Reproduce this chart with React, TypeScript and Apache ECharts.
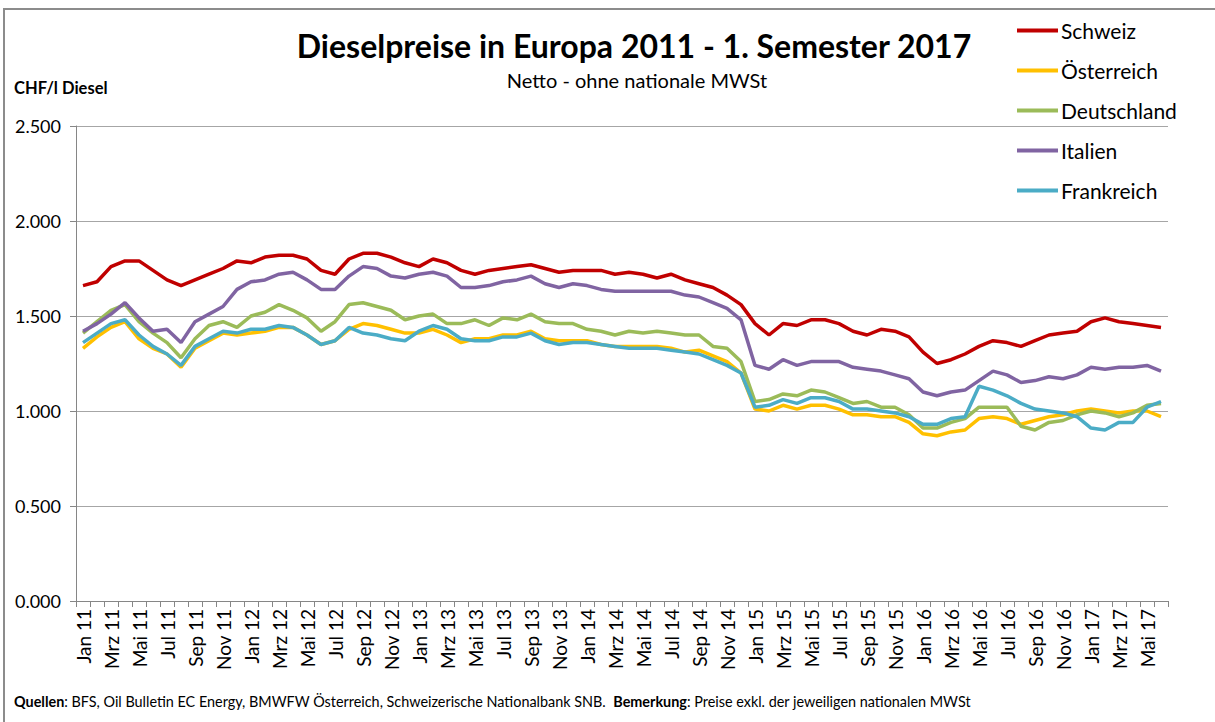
import React, { useEffect, useRef } from "react";
import * as echarts from "echarts";

const monthNames = ["Jan", "Feb", "Mrz", "Apr", "Mai", "Jun", "Jul", "Aug", "Sep", "Okt", "Nov", "Dez"];
const years = ["11", "12", "13", "14", "15", "16", "17"];
const categories: string[] = [];
years.forEach((y) => monthNames.forEach((m) => categories.push(m + " " + y)));
const months = categories.slice(0, 78); // Jan 11 .. Jun 17

const schweiz = [
  1.66, 1.68, 1.76, 1.79, 1.79, 1.74, 1.69, 1.66, 1.69, 1.72,
  1.75, 1.79, 1.78, 1.81, 1.82, 1.82, 1.80, 1.74, 1.72, 1.80,
  1.83, 1.83, 1.81, 1.78, 1.76, 1.80, 1.78, 1.74, 1.72, 1.74,
  1.75, 1.76, 1.77, 1.75, 1.73, 1.74, 1.74, 1.74, 1.72, 1.73,
  1.72, 1.70, 1.72, 1.69, 1.67, 1.65, 1.61, 1.56, 1.46, 1.40,
  1.46, 1.45, 1.48, 1.48, 1.46, 1.42, 1.40, 1.43, 1.42, 1.39,
  1.31, 1.25, 1.27, 1.30, 1.34, 1.37, 1.36, 1.34, 1.37, 1.40,
  1.41, 1.42, 1.47, 1.49, 1.47, 1.46, 1.45, 1.44,
];
const oesterreich = [
  1.33, 1.39, 1.44, 1.47, 1.38, 1.33, 1.30, 1.23, 1.33, 1.37,
  1.41, 1.40, 1.41, 1.42, 1.44, 1.44, 1.40, 1.35, 1.37, 1.43,
  1.46, 1.45, 1.43, 1.41, 1.41, 1.43, 1.40, 1.36, 1.38, 1.38,
  1.40, 1.40, 1.42, 1.38, 1.37, 1.37, 1.37, 1.35, 1.34, 1.34,
  1.34, 1.34, 1.33, 1.31, 1.32, 1.29, 1.26, 1.20, 1.01, 1.00,
  1.03, 1.01, 1.03, 1.03, 1.01, 0.98, 0.98, 0.97, 0.97, 0.94,
  0.88, 0.87, 0.89, 0.90, 0.96, 0.97, 0.96, 0.93, 0.95, 0.97,
  0.98, 1.00, 1.01, 1.00, 0.99, 1.00, 1.00, 0.97,
];
const deutschland = [
  1.41, 1.47, 1.53, 1.56, 1.47, 1.41, 1.36, 1.28, 1.38, 1.45,
  1.47, 1.44, 1.50, 1.52, 1.56, 1.53, 1.49, 1.42, 1.47, 1.56,
  1.57, 1.55, 1.53, 1.48, 1.50, 1.51, 1.46, 1.46, 1.48, 1.45,
  1.49, 1.48, 1.51, 1.47, 1.46, 1.46, 1.43, 1.42, 1.40, 1.42,
  1.41, 1.42, 1.41, 1.40, 1.40, 1.34, 1.33, 1.26, 1.05, 1.06,
  1.09, 1.08, 1.11, 1.10, 1.07, 1.04, 1.05, 1.02, 1.02, 0.98,
  0.91, 0.91, 0.94, 0.96, 1.02, 1.02, 1.02, 0.92, 0.90, 0.94,
  0.95, 0.98, 1.00, 0.99, 0.97, 0.99, 1.03, 1.04,
];
const italien = [
  1.42, 1.46, 1.51, 1.57, 1.49, 1.42, 1.43, 1.36, 1.47, 1.51,
  1.55, 1.64, 1.68, 1.69, 1.72, 1.73, 1.69, 1.64, 1.64, 1.71,
  1.76, 1.75, 1.71, 1.70, 1.72, 1.73, 1.71, 1.65, 1.65, 1.66,
  1.68, 1.69, 1.71, 1.67, 1.65, 1.67, 1.66, 1.64, 1.63, 1.63,
  1.63, 1.63, 1.63, 1.61, 1.60, 1.57, 1.54, 1.48, 1.24, 1.22,
  1.27, 1.24, 1.26, 1.26, 1.26, 1.23, 1.22, 1.21, 1.19, 1.17,
  1.10, 1.08, 1.10, 1.11, 1.16, 1.21, 1.19, 1.15, 1.16, 1.18,
  1.17, 1.19, 1.23, 1.22, 1.23, 1.23, 1.24, 1.21,
];
const frankreich = [
  1.36, 1.41, 1.46, 1.48, 1.40, 1.34, 1.30, 1.24, 1.34, 1.38,
  1.42, 1.41, 1.43, 1.43, 1.45, 1.44, 1.40, 1.35, 1.37, 1.44,
  1.41, 1.40, 1.38, 1.37, 1.42, 1.45, 1.43, 1.38, 1.37, 1.37,
  1.39, 1.39, 1.41, 1.37, 1.35, 1.36, 1.36, 1.35, 1.34, 1.33,
  1.33, 1.33, 1.32, 1.31, 1.30, 1.27, 1.24, 1.20, 1.02, 1.03,
  1.06, 1.04, 1.07, 1.07, 1.05, 1.01, 1.01, 1.00, 0.99, 0.97,
  0.93, 0.93, 0.96, 0.97, 1.13, 1.11, 1.08, 1.04, 1.01, 1.00,
  0.99, 0.97, 0.91, 0.90, 0.94, 0.94, 1.02, 1.05,
];

const seriesNames = ["Schweiz", "Österreich", "Deutschland", "Italien", "Frankreich"];
const seriesData = [schweiz, oesterreich, deutschland, italien, frankreich];
const seriesColors = ["#C00000", "#FFC000", "#9BBB59", "#8064A2", "#4BACC6"];

const FONT = "Lato, 'Open Sans', sans-serif";

export default function App() {
  const ref = useRef<HTMLDivElement>(null);
  useEffect(() => {
    if (!ref.current) return;
    const chart = echarts.init(ref.current, undefined, { renderer: "svg" });
    chart.setOption({
      animation: false,
      backgroundColor: "#ffffff",
      textStyle: { fontFamily: FONT, color: "#000" },
      title: [
        {
          text: "Dieselpreise in Europa 2011 - 1. Semester 2017",
          left: 629,
          top: 24,
          textAlign: "center",
          textStyle: { fontSize: 32, fontWeight: "bold", color: "#000", fontFamily: FONT },
        },
        {
          text: "Netto - ohne nationale MWSt",
          left: 632,
          top: 65,
          textAlign: "center",
          textStyle: { fontSize: 20, fontWeight: "normal", color: "#000", fontFamily: FONT },
        },
      ],
      legend: {
        orient: "vertical",
        left: 1017,
        top: 18,
        padding: 0,
        icon: "rect",
        itemWidth: 41,
        itemHeight: 4,
        itemGap: 15,
        data: seriesNames,
        textStyle: { fontSize: 21, color: "#000", fontFamily: FONT, lineHeight: 25, padding: [0, 0, 0, -2] },
      },
      grid: { left: 76, right: 47, top: 126, bottom: 121, containLabel: false },
      xAxis: {
        type: "category",
        data: months,
        boundaryGap: true,
        axisLine: { show: true, lineStyle: { color: "#868686", width: 1 } },
        axisTick: { show: true, interval: 0, length: 6, lineStyle: { color: "#868686" } },
        axisLabel: {
          interval: 1,
          rotate: 90,
          fontSize: 19,
          color: "#000",
          fontFamily: FONT,
          margin: 8,
        },
        splitLine: { show: false },
      },
      yAxis: {
        type: "value",
        min: 0,
        max: 2.5,
        interval: 0.5,
        name: "CHF/l Diesel",
        nameLocation: "end",
        nameGap: 0,
        nameTextStyle: { fontSize: 16.5, fontWeight: "bold", color: "#000", fontFamily: FONT, align: "left", padding: [0, 0, 30, -62] },
        axisLine: { show: true, lineStyle: { color: "#868686", width: 1 } },
        axisTick: { show: true, length: 6, lineStyle: { color: "#868686" } },
        axisLabel: {
          fontSize: 18,
          color: "#000",
          fontFamily: FONT,
          margin: 15,
          formatter: (v: number) => v.toFixed(3),
        },
        splitLine: { show: true, lineStyle: { color: "#a6a6a6", width: 1 } },
      },
      series: seriesNames.map((n, i) => ({
        name: n,
        type: "line",
        data: seriesData[i],
        showSymbol: false,
        symbol: "none",
        color: seriesColors[i],
        lineStyle: { width: 3.5, color: seriesColors[i] },
      })),
      graphic: [
        {
          type: "rect",
          shape: { x: 4, y: 9, width: 1230, height: 740 },
          style: { fill: "none", stroke: "#8c8c8c", lineWidth: 2 },
          silent: true,
        },
        {
          type: "text",
          left: 14,
          top: 694,
          style: {
            text: "{b|Quellen}: BFS, Oil Bulletin EC Energy, BMWFW Österreich, Schweizerische Nationalbank SNB.  {b|Bemerkung}: Preise exkl. der jeweiligen nationalen MWSt",
            fontSize: 14.4,
            fontFamily: FONT,
            fill: "#000",
            rich: {
              b: { fontWeight: "bold", fontSize: 14.4, fontFamily: FONT },
            },
          },
        },
      ],
    });
    return () => chart.dispose();
  }, []);
  return (
    <div
      ref={ref}
      style={{ position: "absolute", left: 0, top: 0, width: 1215, height: 722 }}
    />
  );
}
